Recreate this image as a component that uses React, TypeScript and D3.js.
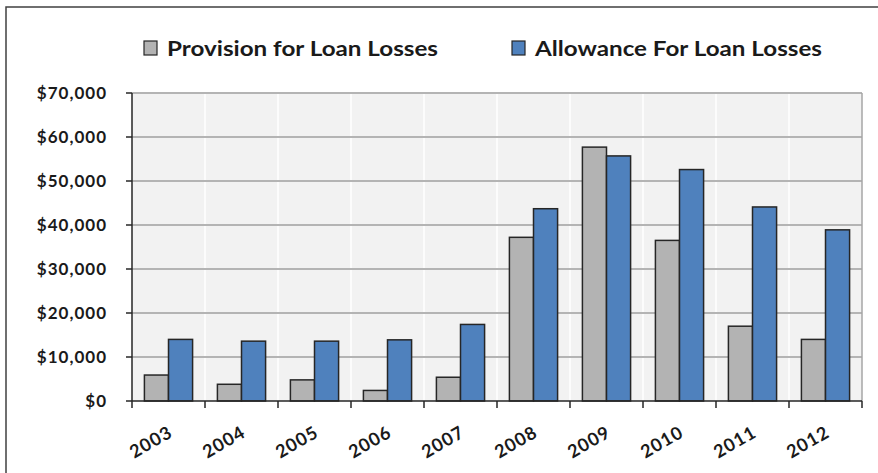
import React from "react";
import * as d3 from "d3";

const years = ["2003", "2004", "2005", "2006", "2007", "2008", "2009", "2010", "2011", "2012"];
const provision = [5900, 3800, 4800, 2400, 5400, 37200, 57700, 36500, 17000, 14000];
const allowance = [14000, 13600, 13600, 13900, 17400, 43700, 55700, 52600, 44100, 38900];
const yTicks = [0, 10000, 20000, 30000, 40000, 50000, 60000, 70000];
const seriesNames = ["Provision for Loan Losses", "Allowance For Loan Losses"];
const seriesColors = ["#b3b3b3", "#4f81bd"];

const W = 878;
const H = 473;
const left = 132;
const right = 862;
const top = 93;
const bottom = 401;
const font = "Lato, 'Open Sans', sans-serif";

export default function App() {
  const x = d3.scaleBand<string>().domain(years).range([left, right]).paddingInner(0).paddingOuter(0);
  const y = d3.scaleLinear().domain([0, 70000]).range([bottom, top]);
  const bw = x.bandwidth();
  const barW = bw * 0.33;
  const fmt = (v: number) => "$" + d3.format(",")(v);
  const data = [provision, allowance];

  return (
    <svg width={W} height={H} style={{ position: "absolute", left: 0, top: 0, display: "block" }}>
      <rect x={0} y={0} width={W} height={H} fill="#ffffff" />
      <rect x={6} y={7} width={W + 10} height={H + 10} fill="#ffffff" stroke="#404040" strokeWidth={1.5} />
      {/* plot background */}
      <rect x={left} y={top} width={right - left} height={bottom - top} fill="#f2f2f2" />
      {/* vertical white gridlines */}
      {years.map((yr, i) =>
        i > 0 ? (
          <line key={"vg" + yr} x1={x(yr)!} x2={x(yr)!} y1={top} y2={bottom} stroke="#ffffff" strokeWidth={1.5} />
        ) : null
      )}
      {/* horizontal gridlines */}
      {yTicks.map((t) =>
        t > 0 ? (
          <line key={"hg" + t} x1={left} x2={right} y1={y(t)} y2={y(t)} stroke="#b4b4b4" strokeWidth={1.8} />
        ) : null
      )}
      <line x1={right} x2={right} y1={top} y2={bottom} stroke="#a6a6a6" strokeWidth={1.5} />
      {/* bars */}
      {data.map((vals, si) =>
        vals.map((v, i) => {
          const cx = x(years[i])! + bw / 2;
          const bx = si === 0 ? cx - barW : cx;
          return (
            <rect
              key={"b" + si + "-" + i}
              x={bx}
              y={y(v)}
              width={barW}
              height={bottom - y(v)}
              fill={seriesColors[si]}
              stroke="#262626"
              strokeWidth={1.5}
            />
          );
        })
      )}
      {/* axes */}
      <line x1={left} x2={left} y1={top} y2={bottom + 7} stroke="#262626" strokeWidth={1.5} />
      <line x1={left} x2={right} y1={bottom} y2={bottom} stroke="#262626" strokeWidth={1.5} />
      {yTicks.map((t) => (
        <g key={"yt" + t}>
          <line x1={left - 6} x2={left} y1={y(t)} y2={y(t)} stroke="#262626" strokeWidth={1.5} />
          <text
            x={107}
            y={y(t)}
            dy="0.36em"
            textAnchor="end"
            fontFamily={font}
            fontWeight="bold"
            fontSize={17}
            letterSpacing={1}
            fill="#1a1a1a"
          >
            {fmt(t)}
          </text>
        </g>
      ))}
      {years.map((yr, i) => (
        <line
          key={"xt" + yr}
          x1={x(yr)! + bw}
          x2={x(yr)! + bw}
          y1={bottom}
          y2={bottom + 7}
          stroke="#262626"
          strokeWidth={1.5}
        />
      ))}
      {years.map((yr) => {
        const cx = x(yr)! + bw / 2;
        return (
          <text
            key={"xl" + yr}
            transform={`translate(${cx - 1},${425}) rotate(-30)`}
            textAnchor="end"
            fontFamily={font}
            fontWeight="bold"
            fontSize={18}
            letterSpacing={1}
            fill="#1a1a1a"
            dy="0.7em"
          >
            {yr}
          </text>
        );
      })}
      {/* legend */}
      {seriesNames.map((name, i) => {
        const lx = i === 0 ? 144 : 512;
        const tx = i === 0 ? 167 : 535;
        const tw = i === 0 ? 271 : 287;
        return (
          <g key={"lg" + i}>
            <rect x={lx} y={41} width={13} height={14} fill={seriesColors[i]} stroke="#262626" strokeWidth={1.2} />
            <text
              x={tx}
              y={56}
              fontFamily={font}
              fontWeight="bold"
              fontSize={21}
              fill="#1a1a1a"
              textLength={tw}
              lengthAdjust="spacingAndGlyphs"
            >
              {name}
            </text>
          </g>
        );
      })}
    </svg>
  );
}
